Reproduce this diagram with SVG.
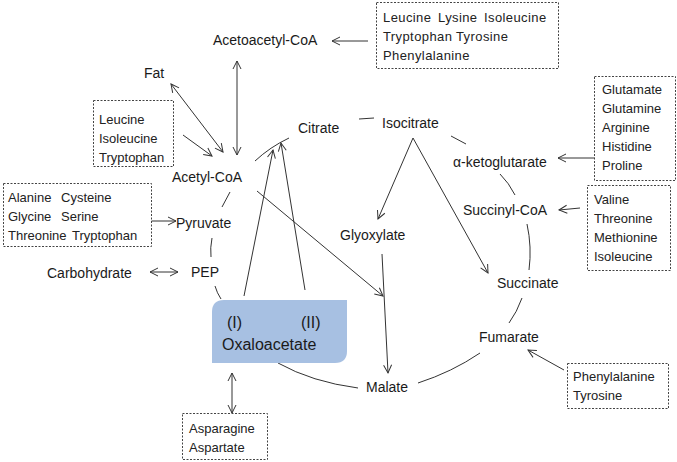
<svg xmlns="http://www.w3.org/2000/svg" width="677" height="462" viewBox="0 0 677 462">
<style>
.lbl{font-family:"Liberation Sans",Arial,sans-serif;font-size:14px;fill:#1a1a1a}
.big{font-family:"Liberation Sans",Arial,sans-serif;font-size:16px;fill:#1a1a1a}
.sm{font-family:"Liberation Sans",Arial,sans-serif;font-size:13px;fill:#222}
.box{fill:#fff;stroke:#444;stroke-width:1;stroke-dasharray:2,1.5}
.ln{fill:none;stroke:#333;stroke-width:1}
.ar{fill:none;stroke:#333;stroke-width:1;marker-end:url(#ah)}
.ar2{fill:none;stroke:#333;stroke-width:1;marker-end:url(#ah);marker-start:url(#ahs)}
</style>
<defs>
<marker id="ah" markerUnits="userSpaceOnUse" markerWidth="12" markerHeight="12" refX="9" refY="4" orient="auto" overflow="visible">
<path d="M1,0 L9,4 L1,8" fill="none" stroke="#333" stroke-width="1"/>
</marker>
<marker id="ahs" markerUnits="userSpaceOnUse" markerWidth="12" markerHeight="12" refX="9" refY="4" orient="auto-start-reverse" overflow="visible">
<path d="M1,0 L9,4 L1,8" fill="none" stroke="#333" stroke-width="1"/>
</marker>
</defs>
<rect width="677" height="462" fill="#fff"/>

<g id="connectors">
<path class="ln" d="M255,161 Q270,147 289,138"/>
<path class="ln" d="M359,119 L374,118"/>
<path class="ln" d="M451,136 L466,144"/>
<path class="ln" d="M500,174 Q509,183 515,195"/>
<path class="ln" d="M527,224 Q532,247 529,270"/>
<path class="ln" d="M522,298 Q517,312 509,323"/>
<path class="ln" d="M480,353 Q452,372 418,383"/>
<path class="ln" d="M358,388 Q312,382 278,363"/>
<path class="ln" d="M221,299 Q217,293 215,286"/>
<path class="ln" d="M212,238 Q210,248 211,257"/>
<path class="ln" d="M222,207 L230,192"/>

<path class="ar2" d="M171,84 L223,152"/>
<path class="ar" d="M183,135 L212,156"/>
<path class="ar2" d="M237,61 L237,155"/>
<path class="ar" d="M368,41 L332,41"/>
<path class="ar" d="M595,158 L558,158"/>
<path class="ar" d="M580,208 L559,210"/>
<path class="ar" d="M564,370 L528,350"/>
<path class="ar2" d="M232,373 L232,413"/>
<path class="ar" d="M151,221 L176,221"/>
<path class="ar2" d="M150,272 L178,272"/>
<path class="ar" d="M244,296 L273,150"/>
<path class="ar" d="M305,290 L281,143"/>
<path class="ar" d="M257,191 L383,296"/>
<path class="ar" d="M382,254 L388,373"/>
<path class="ar" d="M413,138 L378,219"/>
<path class="ar" d="M413,138 L488,273"/>
</g>

<g id="oxaloacetate">
<path d="M212,312 Q212,300 224,300 L347,300 L347,351 Q347,363 335,363 L212,363 Z" fill="#a7c0e2"/>
<text class="big" x="227" y="328">(I)</text>
<text class="big" x="301" y="328">(II)</text>
<text class="big" x="222" y="350">Oxaloacetate</text>
</g>

<g id="acetoacetyl-coa"><text class="lbl" x="213" y="45">Acetoacetyl-CoA</text></g>
<g id="fat"><text class="lbl" x="144" y="78">Fat</text></g>
<g id="acetyl-coa"><text class="lbl" x="172" y="182">Acetyl-CoA</text></g>
<g id="citrate"><text class="lbl" x="298" y="133">Citrate</text></g>
<g id="isocitrate"><text class="lbl" x="382" y="128">Isocitrate</text></g>
<g id="alpha-ketoglutarate"><text class="lbl" x="453" y="167">α-ketoglutarate</text></g>
<g id="succinyl-coa"><text class="lbl" x="463" y="215">Succinyl-CoA</text></g>
<g id="glyoxylate"><text class="lbl" x="340" y="240">Glyoxylate</text></g>
<g id="pyruvate"><text class="lbl" x="176" y="228">Pyruvate</text></g>
<g id="pep"><text class="lbl" x="191" y="277">PEP</text></g>
<g id="carbohydrate"><text class="lbl" x="47" y="278">Carbohydrate</text></g>
<g id="succinate"><text class="lbl" x="497" y="288">Succinate</text></g>
<g id="fumarate"><text class="lbl" x="479" y="342">Fumarate</text></g>
<g id="malate"><text class="lbl" x="366" y="392">Malate</text></g>

<g id="box-acetoacetyl">
<rect class="box" x="376.5" y="2.5" width="182" height="66"/>
<text class="sm" y="22" letter-spacing="0.4"><tspan x="383">Leucine</tspan><tspan x="438">Lysine</tspan><tspan x="484">Isoleucine</tspan></text>
<text class="sm" y="41" letter-spacing="0.4"><tspan x="383">Tryptophan</tspan><tspan x="456">Tyrosine</tspan></text>
<text class="sm" x="383" y="60" letter-spacing="0.4">Phenylalanine</text>
</g>

<g id="box-acetyl">
<rect class="box" x="93.5" y="100.5" width="80" height="66"/>
<text class="sm" x="99" y="124">Leucine</text>
<text class="sm" x="99" y="143">Isoleucine</text>
<text class="sm" x="99" y="162">Tryptophan</text>
</g>

<g id="box-pyruvate">
<rect class="box" x="3.5" y="183.5" width="148" height="63"/>
<text class="sm" y="202"><tspan x="8">Alanine</tspan><tspan x="61">Cysteine</tspan></text>
<text class="sm" y="221"><tspan x="8">Glycine</tspan><tspan x="61">Serine</tspan></text>
<text class="sm" y="240"><tspan x="8">Threonine</tspan><tspan x="72">Tryptophan</tspan></text>
</g>

<g id="box-ketoglutarate">
<rect class="box" x="594.5" y="76.5" width="81" height="104"/>
<text class="sm" x="602" y="94">Glutamate</text>
<text class="sm" x="602" y="113">Glutamine</text>
<text class="sm" x="602" y="132">Arginine</text>
<text class="sm" x="602" y="151">Histidine</text>
<text class="sm" x="602" y="170">Proline</text>
</g>

<g id="box-succinyl">
<rect class="box" x="587.5" y="185.5" width="83" height="85"/>
<text class="sm" x="594" y="204">Valine</text>
<text class="sm" x="594" y="223">Threonine</text>
<text class="sm" x="594" y="242">Methionine</text>
<text class="sm" x="594" y="261">Isoleucine</text>
</g>

<g id="box-fumarate">
<rect class="box" x="567.5" y="363.5" width="101" height="45"/>
<text class="sm" x="573" y="381">Phenylalanine</text>
<text class="sm" x="573" y="400">Tyrosine</text>
</g>

<g id="box-oxaloacetate">
<rect class="box" x="182.5" y="413.5" width="85" height="46"/>
<text class="sm" x="189" y="433">Asparagine</text>
<text class="sm" x="189" y="452">Aspartate</text>
</g>
</svg>
